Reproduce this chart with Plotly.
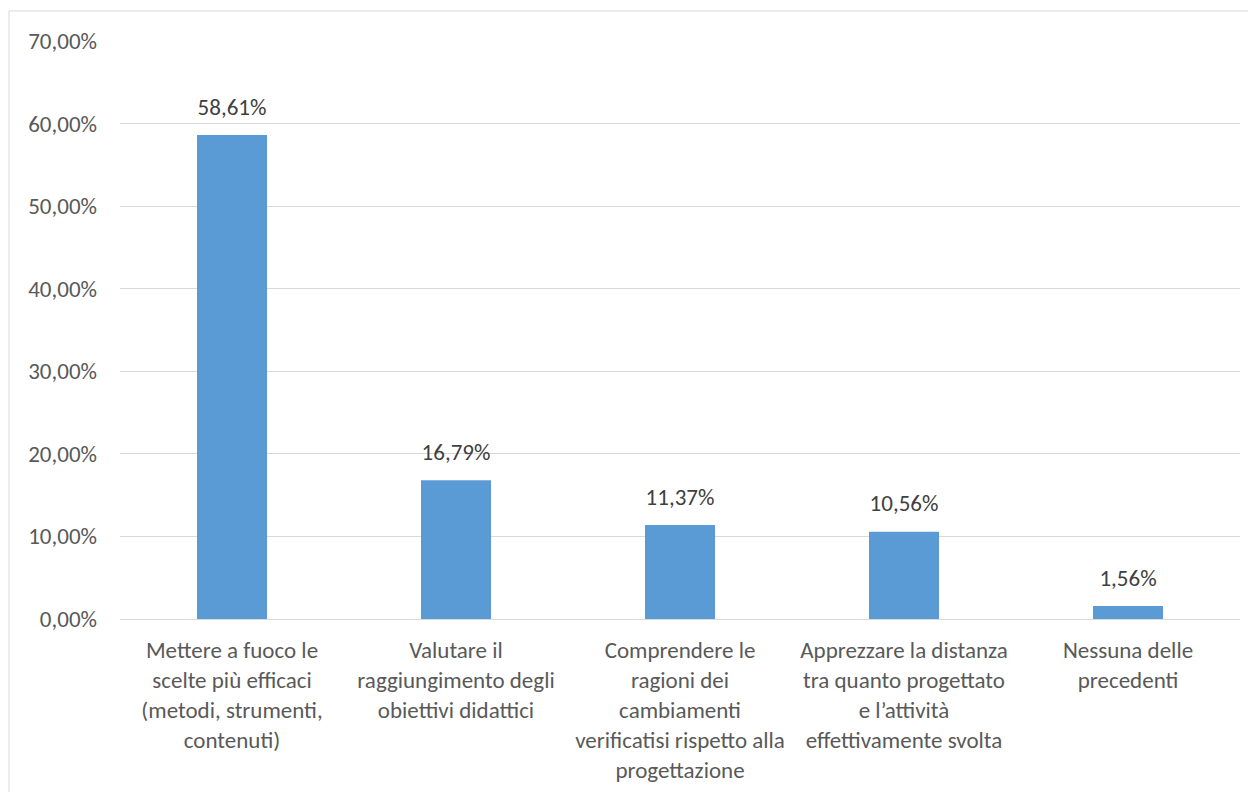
import plotly.graph_objects as go

categories = [
    "Mettere a fuoco le<br>scelte più efficaci<br>(metodi, strumenti,<br>contenuti)",
    "Valutare il<br>raggiungimento degli<br>obiettivi didattici",
    "Comprendere le<br>ragioni dei<br>cambiamenti<br>verificatisi rispetto alla<br>progettazione",
    "Apprezzare la distanza<br>tra quanto progettato<br>e l’attività<br>effettivamente svolta",
    "Nessuna delle<br>precedenti",
]
values = [0.5861, 0.1679, 0.1137, 0.1056, 0.0156]
y_ticks = [0, 0.1, 0.2, 0.3, 0.4, 0.5, 0.6, 0.7]

FONT = "Carlito, Lato, sans-serif"
FS = 23

fig = go.Figure()
fig.add_trace(
    go.Bar(
        x=categories,
        y=values,
        marker=dict(color="#5B9BD5", line=dict(width=0)),
        hoverinfo="skip",
    )
)
# data labels above the bars
fig.add_trace(
    go.Scatter(
        x=categories,
        y=values,
        mode="markers+text",
        marker=dict(size=22, opacity=0),
        texttemplate="%{y:.2%}",
        textposition="top center",
        textfont=dict(family=FONT, size=FS, color="#404040"),
        cliponaxis=False,
        hoverinfo="skip",
    )
)

fig.update_layout(
    width=1256,
    height=792,
    margin=dict(l=112, r=24, t=33, b=181),
    paper_bgcolor="white",
    plot_bgcolor="white",
    separators=",.",
    bargap=0.6875,
    showlegend=False,
    font=dict(family=FONT, size=FS, color="#595959"),
    xaxis=dict(
        showgrid=False,
        showline=False,
        ticks="",
        tickfont=dict(family=FONT, size=FS, color="#595959"),
        ticklabelstandoff=15,
        tickangle=0,
    ),
    yaxis=dict(
        range=[0, 0.7],
        tickvals=y_ticks,
        tickformat=".2%",
        showgrid=True,
        gridcolor="#D9D9D9",
        gridwidth=1,
        zeroline=True,
        zerolinecolor="#D9D9D9",
        zerolinewidth=1,
        showline=False,
        ticks="",
        tickfont=dict(family=FONT, size=FS, color="#595959"),
        ticklabelstandoff=22,
    ),
    shapes=[
        dict(
            type="rect",
            xref="paper",
            yref="paper",
            x0=(1 - 112) / 1120,
            x1=1.05,
            y0=-0.5,
            y1=(611 - 3) / 578,
            line=dict(color="#D9D9D9", width=1),
            fillcolor="rgba(0,0,0,0)",
            layer="below",
        )
    ],
)

fig.write_html("out.html")
